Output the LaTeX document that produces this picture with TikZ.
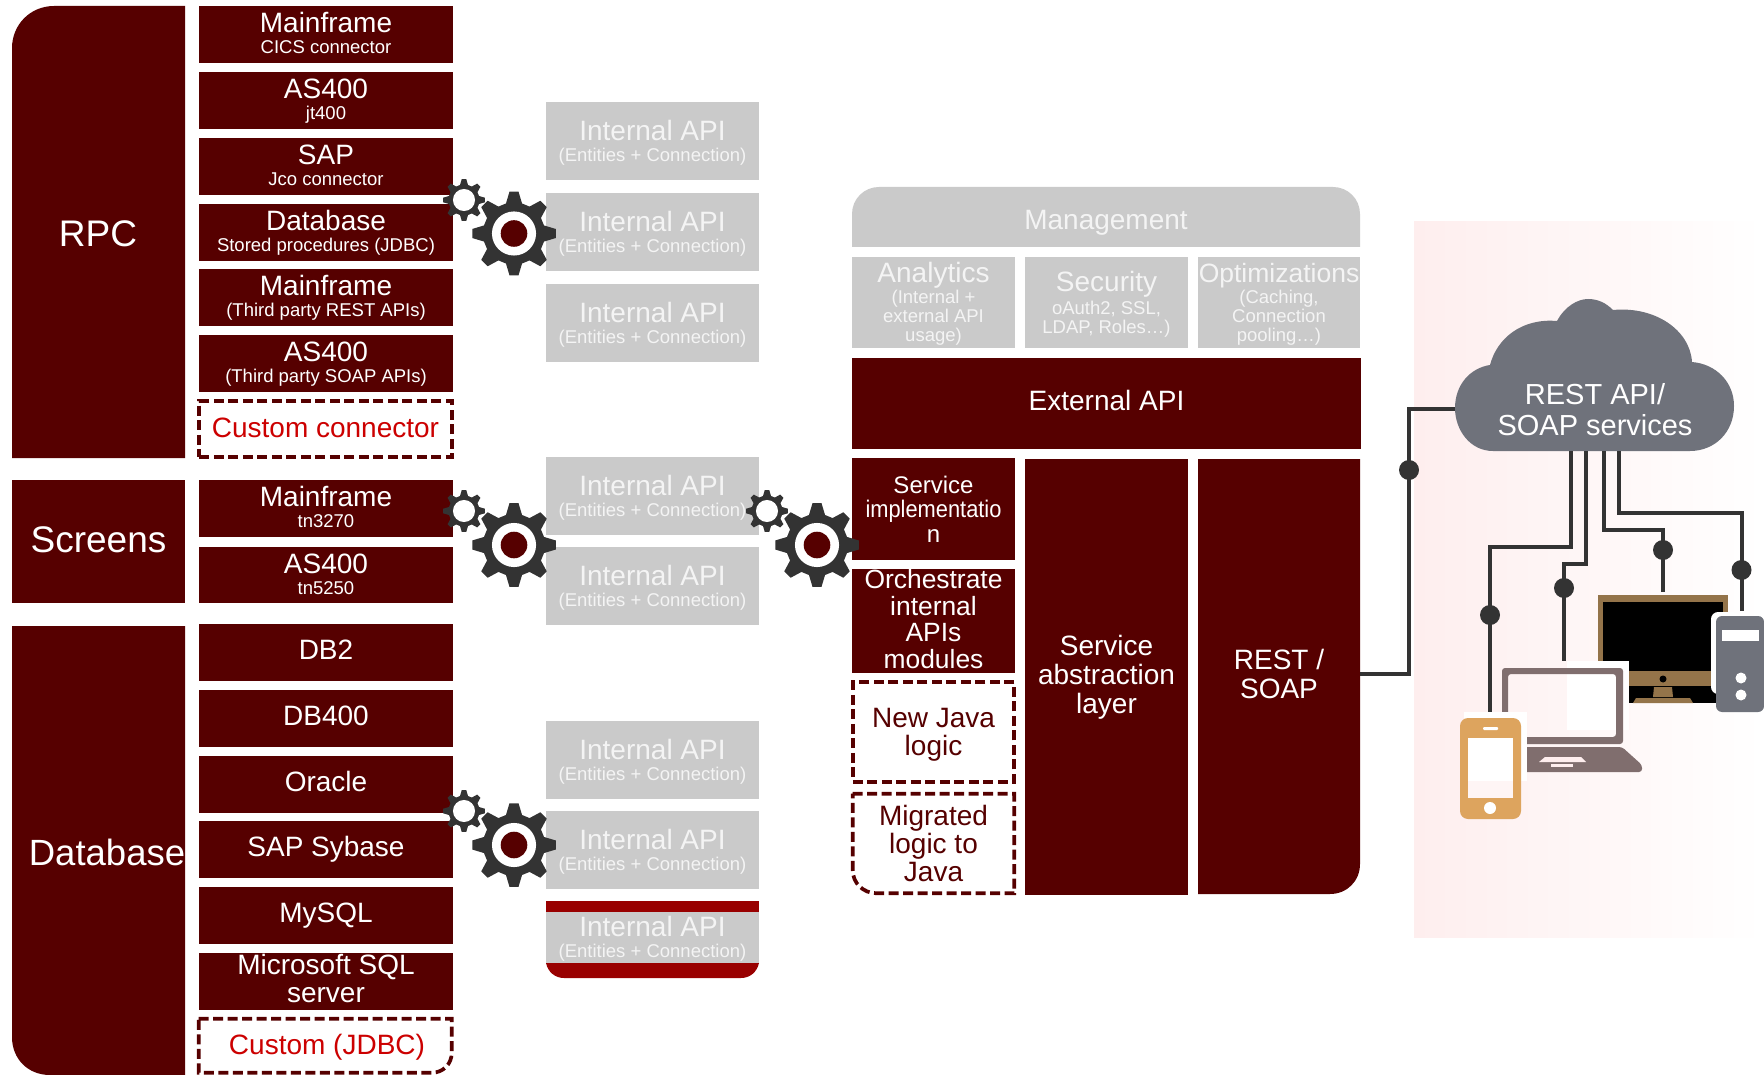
\documentclass[tikz,border=0pt]{standalone}
\usepackage{graphicx}
\usepackage{fontspec}
\setmainfont{Liberation Sans}
\definecolor{mar}{HTML}{560000}
\definecolor{gry}{HTML}{CACACA}
\definecolor{gtx}{HTML}{F4F4F4}
\definecolor{red1}{HTML}{990000}
\definecolor{red2}{HTML}{CC0000}
\definecolor{drk}{HTML}{333333}
\definecolor{cld}{HTML}{6F727B}
\definecolor{pnk}{HTML}{FEEEEE}
\definecolor{brn}{HTML}{94744A}
\definecolor{lap}{HTML}{806E6E}
\definecolor{phn}{HTML}{DDA45E}
\newcommand\fs[2]{\fontsize{#1}{#2}\selectfont\lineskiplimit=-100pt\relax}
\newcommand\bx[7]{\node[#1,minimum width={#5-#3},minimum height={#6-#4}] (#2) at ({(#3+#5)/2},{(#4+#6)/2}) {#7};}
\newcommand\gearicon[3]{%
 \begin{scope}[shift={(#1,#2)}]
 \fill[drk] (-15:{.74*#3}) \foreach \a in {0,45,...,315}{ -- (\a-15:{.74*#3}) -- (\a-6.2:{#3}) -- (\a+6.2:{#3}) -- (\a+15:{.74*#3})} -- cycle;
 \fill[white] (0,0) circle ({.525*#3});
 \end{scope}}
\newcommand\bigdot[2]{\fill[mar] (#1,#2) circle (13.3);}
\newcommand\tw[2]{{\fs{28}{21}\rule{0pt}{21.5pt}#1\vphantom{Mf}}\\#2\vphantom{(gy}}
\newcommand\ia{{\fs{28}{21.5}\rule{0pt}{24.2pt}Internal API}\\(Entities + Connection)}
\newcommand\sd{\vphantom{(y}}
\newcommand\hd[2]{{\fs{#1}{20}\rule{0pt}{23.8pt}#2}}
\tikzset{
 x=1pt,y=-1pt,
 base/.style={inner sep=0pt,outer sep=0pt,align=center,draw=none},
 mb/.style={base,fill=mar,text=white,font=\fs{28}{28}},
 ms/.style={base,fill=mar,text=white,font=\fs{18.5}{21}},
 mo/.style={base,text=white,font=\fs{28}{29}},
 ga/.style={base,fill=gry,text=gtx,font=\fs{18.5}{20.7}},
 gb/.style={base,text=gtx,font=\fs{18.5}{20.7}},
 gs/.style={base,fill=gry,text=gtx,font=\fs{18.5}{19.3}},
 dsh/.style={draw=mar,line width=3.7pt,dash pattern=on 10pt off 4.5pt},
 wire/.style={draw=drk,line width=4pt},
 dot/.style={circle,fill=drk,inner sep=0pt,outer sep=0pt,minimum size=20pt},
}
\begin{document}
\begin{tikzpicture}
\useasboundingbox (0,0) rectangle (1764,1075);
% background
\shade[left color=pnk,right color=white] (1414,221.5) rectangle (1764,937);
% left category shapes
\fill[mar] (185,458) -- (12,458) -- (12,48) .. controls (12,25) and (30,6) .. (54,6) -- (185,6) -- cycle;
\node[mo,font=\fs{37}{37}] (rpc) at (98,234) {RPC};
\bx{mb,font=\fs{37}{37}}{screens}{12}{480}{185}{603}{Screens\rule[-4.5pt]{0pt}{0pt}}
\fill[mar] (12,626) -- (185,626) -- (185,1075) -- (50,1075) .. controls (28,1075) and (12,1059) .. (12,1037) -- cycle;
\node[mo,font=\fs{36.5}{37}] (database) at (107,852) {Database};
% connectors column
\bx{ms}{m1}{199}{6}{453}{63}{\tw{Mainframe}{CICS connector}}
\bx{ms}{m2}{199}{72}{453}{129}{\tw{AS400}{jt400}}
\bx{ms}{m3}{199}{138}{453}{195}{\tw{SAP}{Jco connector}}
\bx{ms}{m4}{199}{204}{453}{261}{\tw{Database}{Stored procedures (JDBC)}}
\bx{ms}{m5}{199}{269}{453}{326}{\tw{Mainframe}{(Third party REST APIs)}}
\bx{ms}{m6}{199}{335}{453}{392}{\tw{AS400}{(Third party SOAP APIs)}}
\node[base,dsh,fill=white,text=red2,font=\fs{28}{29},minimum width=252.5,minimum height=56] (m7) at (325.5,429) {Custom connector\rule[-2pt]{0pt}{0pt}};
\bx{ms}{s1}{199}{480}{453}{537}{\tw{Mainframe}{tn3270}}
\bx{ms}{s2}{199}{547}{453}{603}{\tw{AS400}{tn5250}}
\bx{mb}{d1}{199}{624}{453}{681}{DB2\sd}
\bx{mb}{d2}{199}{690}{453}{747}{DB400\sd}
\bx{mb}{d3}{199}{756}{453}{813}{Oracle\sd}
\bx{mb}{d4}{199}{821}{453}{878}{SAP Sybase\sd}
\bx{mb}{d5}{199}{887}{453}{944}{MySQL\sd}
\bx{mb}{d6}{199}{953}{453}{1010}{Microsoft SQL\\server\sd}
\draw[dsh,fill=white] (198.7,1018.7) -- (451.7,1018.7) -- (451.7,1053) .. controls (451.7,1064) and (443,1072.7) .. (432,1072.7) -- (198.7,1072.7) -- cycle;
\node[base,text=red2,font=\fs{28}{29}] (d7) at (327,1047) {Custom (JDBC)};
% internal APIs
\bx{ga}{i1}{546}{102}{759}{180}{\ia}
\bx{ga}{i2}{546}{193}{759}{271}{\ia}
\bx{ga}{i3}{546}{284}{759}{362}{\ia}
\bx{ga}{i4}{546}{457}{759}{535}{\ia}
\bx{ga}{i5}{546}{547}{759}{625}{\ia}
\bx{ga}{i6}{546}{721}{759}{799}{\ia}
\bx{ga}{i7}{546}{811}{759}{889}{\ia}
\fill[gry] (546,901) rectangle (759,963);
\fill[red1] (546,901) rectangle (759,912);
\fill[red1] (546,963) -- (759,963) .. controls (757,972) and (750,978) .. (741,978) -- (564,978) .. controls (555,978) and (548,972) .. (546,963) -- cycle;
\node[gb] (i8) at (652.5,937) {\ia};
% management block
\fill[gry] (852,247) -- (852,214) .. controls (852,199) and (864,187) .. (879,187) -- (1333,187) .. controls (1348,187) and (1360,199) .. (1360,214) -- (1360,247) -- cycle;
\node[base,text=gtx,font=\fs{28}{29}] (mgmt) at (1106,222.4) {Management};
\bx{gs}{an}{852}{257}{1015}{348}{\hd{28}{Analytics}\\[1.1pt](Internal +\\external API\\usage)}
\bx{gs}{se}{1025}{257}{1188}{348}{{\fs{28}{20}\rule{0pt}{24pt}Security}\\[3.4pt]oAuth2, SSL,\\LDAP, Roles…)}
\bx{gs}{op}{1198}{257}{1360}{348}{\hd{26.5}{Optimizations}\\[1.1pt](Caching,\\Connection\\pooling…)}
\bx{mb}{ext}{852}{358}{1361}{449}{External API\sd}
\bx{mb,font=\fs{24}{24.5}}{svc}{852}{458}{1015}{560}{Service\\\scalebox{.91}[1]{implementatio}\\n}
\bx{mb,font=\fs{26.4}{26.7}}{orch}{852}{570}{1015}{672}{Orchestrate\\internal\\APIs\\modules\rule[-4pt]{0pt}{0pt}}
\node[base,dsh,fill=white,text=mar,font=\fs{28}{28.7},minimum width=161.5,minimum height=99.5] (newj) at (933.5,732) {\rule{0pt}{25pt}New Java\\logic};
\draw[dsh,fill=white] (852.7,793.7) -- (1014.3,793.7) -- (1014.3,893.3) -- (877,893.3) .. controls (863,893.3) and (852.7,883) .. (852.7,870) -- cycle;
\node[base,text=mar,font=\fs{28}{28.3}] (migr) at (933.5,843.5) {Migrated\\logic to\\Java};
\fill[mar] (1025,459) rectangle (1188,895);
\node[mo] (sal) at (1106.5,677.5) {Service\\abstraction\\layer};
\fill[mar] (1198,459) -- (1360,459) -- (1360,864) .. controls (1360,881) and (1347,894) .. (1330,894) -- (1198,894) -- cycle;
\node[mo,minimum width=162,minimum height=435] (rest) at (1279,674.2) {REST /\\SOAP};
% cloud
\fill[cld] (1493,451) .. controls (1470,451) and (1455,430) .. (1455,408) .. controls (1455,385) and (1470,368) .. (1490,365) .. controls (1497,338) and (1522,318) .. (1557,321) .. controls (1565,306) and (1578,299) .. (1588,299) .. controls (1598,299) and (1606,303) .. (1613,310) .. controls (1655,306) and (1690,330) .. (1692,362) .. controls (1716,364) and (1734,382) .. (1734,406) .. controls (1734,432) and (1715,451) .. (1690,451) -- cycle;
\node[base,text=white,font=\fs{29}{30.5}] (cloud) at (1595,409.5) {REST API/\\SOAP services};
% wires
\coordinate (cw) at (1455,409);
\node[dot] (j0) at (1409,470) {};
\draw[wire] (rest.east) -| (j0.center) |- (cw);
\coordinate (c1) at (1571,451); \coordinate (b1) at (1490,547); \coordinate (e1) at (1490,712);
\coordinate (c2) at (1586,451); \coordinate (b2) at (1564,564); \coordinate (e2) at (1564,661);
\coordinate (c3) at (1604,451); \coordinate (b3) at (1663,530); \coordinate (e3) at (1663,592);
\coordinate (c4) at (1619,451); \coordinate (b4) at (1741.5,513); \coordinate (e4) at (1741.5,611);
\draw[wire] (c1) |- (b1) -- (e1);
\draw[wire] (c2) |- (b2) -- (e2);
\draw[wire] (c3) |- (b3) -- (e3);
\draw[wire] (c4) |- (b4) -- (e4);
\node[dot] (j1) at (1490,615) {};
\node[dot] (j2) at (1564,588) {};
\node[dot] (j3) at (1663,550) {};
\node[dot] (j4) at (1741.5,570) {};
% monitor
\fill[black] (1598,595) rectangle (1728,703);
\fill[brn] (1598,595) rectangle (1728,601.5);
\fill[brn] (1598,595) rectangle (1603,671);
\fill[brn] (1723,595) rectangle (1728,671);
\fill[brn] (1598,671) rectangle (1728,686);
\fill[black] (1663,679) circle (3.5);
\fill[brn] (1654,687) -- (1672,687) -- (1673,697) -- (1653,697) -- cycle;
\fill[brn] (1636,698) -- (1690,698) -- (1693,703) -- (1633,703) -- cycle;
% server
\fill[white,rounded corners=7] (1711,612) rectangle (1740,694);
\fill[cld,rounded corners=6] (1716,616) rectangle (1764,712);
\fill[white] (1722,630) rectangle (1759,641);
\fill[white] (1741,678) circle (5.5);
\fill[white] (1741,695) circle (5.5);
% laptop
\fill[white] (1567,661) rectangle (1629,730);
\fill[lap,even odd rule,rounded corners=3] (1502,668) rectangle (1623,744) (1508,674) rectangle (1616,737);
\fill[lap,rounded corners=3] (1505,747) -- (1622,747) -- (1642,765) -- (1642,772) -- (1505,772) -- cycle;
\fill[pnk] (1545,757) -- (1581,757) -- (1586,762) -- (1539,762) -- cycle;
\fill[pnk] (1551,764) rectangle (1573,767);
% phone
\fill[white] (1464,712) rectangle (1527,781);
\fill[phn,rounded corners=8] (1460,718) rectangle (1521,819);
\fill[pnk!60!white] (1468,738) rectangle (1513,798);
\fill[white] (1468,738) rectangle (1513,781);
\fill[white,rounded corners=1] (1483,727) rectangle (1498,730);
\fill[white] (1490,808) circle (6);
% gears
\gearicon{464}{200}{21}\gearicon{514}{233.5}{42}\bigdot{514}{233.5}
\gearicon{464}{511}{21}\gearicon{514}{545}{42}\bigdot{514}{545}
\gearicon{767}{511}{21}\gearicon{817}{545}{42}\bigdot{817}{545}
\gearicon{464}{811}{21}\gearicon{514}{845}{42}\bigdot{514}{845}
\end{tikzpicture}
\end{document}
